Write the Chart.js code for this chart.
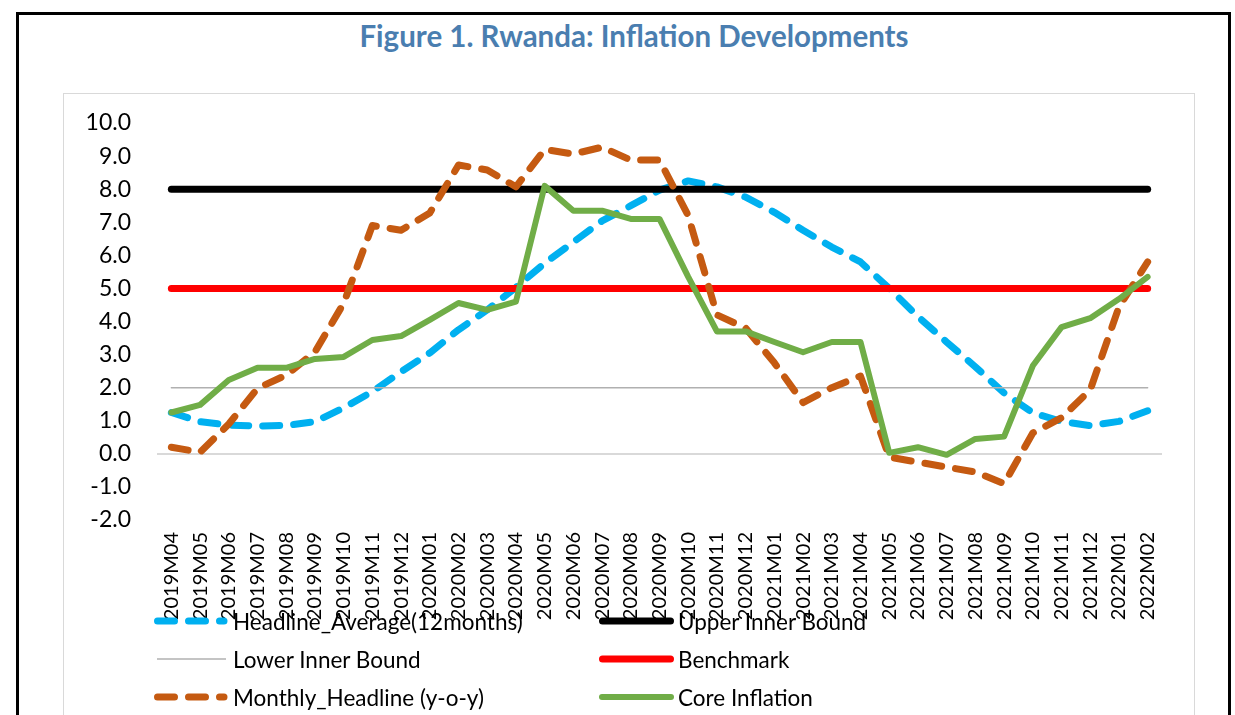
<!DOCTYPE html>
<html>
<head>
<meta charset="utf-8">
<script src="https://cdn.jsdelivr.net/npm/chart.js@4.4.1/dist/chart.umd.min.js"></script>
<style>
  html, body { margin: 0; padding: 0; background: #fff; }
  body { width: 1235px; height: 715px; overflow: hidden; position: relative; font-family: Lato, "Noto Sans", sans-serif; }
  #frame { position: absolute; left: 16px; top: 12px; width: 1209px; height: 800px; border: 3px solid #000; }
  #title { position: absolute; left: 234px; top: 18px; width: 800px; text-align: center; font-weight: bold; font-size: 29.5px; color: #4a7eb0; }
  #plotbox { position: absolute; left: 63px; top: 93px; width: 1130px; height: 700px; border: 1px solid #d9d9d9; }
  #wrap { position: absolute; left: 63px; top: 93px; width: 1132px; height: 622px; }
  .item { position: absolute; height: 26px; display: flex; align-items: center; font-size: 22.5px; color: #000; white-space: nowrap; }
  .item svg { margin-right: 4px; }
</style>
</head>
<body>
<div id="frame"></div>
<div id="title">Figure 1. Rwanda: Inflation Developments</div>
<div id="plotbox"></div>
<div id="wrap"><canvas id="inflationChart"></canvas></div>
<div id="legend"></div>
<script>
const months = ['2019M04', '2019M05', '2019M06', '2019M07', '2019M08', '2019M09', '2019M10', '2019M11', '2019M12',
  '2020M01', '2020M02', '2020M03', '2020M04', '2020M05', '2020M06', '2020M07', '2020M08', '2020M09', '2020M10',
  '2020M11', '2020M12', '2021M01', '2021M02', '2021M03', '2021M04', '2021M05', '2021M06', '2021M07', '2021M08',
  '2021M09', '2021M10', '2021M11', '2021M12', '2022M01', '2022M02'];

const headlineAverage = [1.25, 0.97, 0.87, 0.84, 0.86, 0.97, 1.39, 1.88, 2.48, 3.05, 3.75, 4.35, 5.03, 5.76, 6.4, 7.04, 7.5,
  7.97, 8.25, 8.07, 7.76, 7.3, 6.76, 6.25, 5.8, 5.0, 4.15, 3.38, 2.63, 1.84, 1.24, 0.98, 0.85, 0.98, 1.3];
const upperBound = [8, 8, 8, 8, 8, 8, 8, 8, 8, 8, 8, 8, 8, 8, 8, 8, 8, 8, 8, 8, 8, 8, 8, 8, 8, 8, 8, 8, 8, 8, 8, 8, 8, 8, 8];
const lowerBound = [2, 2, 2, 2, 2, 2, 2, 2, 2, 2, 2, 2, 2, 2, 2, 2, 2, 2, 2, 2, 2, 2, 2, 2, 2, 2, 2, 2, 2, 2, 2, 2, 2, 2, 2];
const benchmark = [5, 5, 5, 5, 5, 5, 5, 5, 5, 5, 5, 5, 5, 5, 5, 5, 5, 5, 5, 5, 5, 5, 5, 5, 5, 5, 5, 5, 5, 5, 5, 5, 5, 5, 5];
const monthlyHeadline = [0.2, 0.05, 0.9, 1.98, 2.38, 3.08, 4.55, 6.9, 6.76, 7.28, 8.73, 8.58, 8.07, 9.2, 9.06, 9.27, 8.88,
  8.88, 7.2, 4.2, 3.8, 2.75, 1.55, 2.0, 2.35, -0.1, -0.25, -0.4, -0.55, -0.9, 0.63, 1.09, 1.93, 4.44, 5.8];
const coreInflation = [1.25, 1.48, 2.23, 2.6, 2.6, 2.87, 2.93, 3.44, 3.56, 4.05, 4.56, 4.35, 4.6, 8.1, 7.35, 7.35, 7.1,
  7.1, 5.35, 3.7, 3.7, 3.38, 3.07, 3.38, 3.38, 0.03, 0.2, -0.03, 0.45, 0.52, 2.66, 3.83, 4.1, 4.68, 5.35];

const yTicks = [-2, -1, 0, 1, 2, 3, 4, 5, 6, 7, 8, 9, 10];

const dash = [17, 14];

function line(label, data, color, width, order, borderDash) {
  return {
    label: label,
    data: data,
    borderColor: color,
    backgroundColor: color,
    borderWidth: width,
    borderDash: borderDash || [],
    borderCapStyle: 'round',
    borderJoinStyle: 'round',
    pointRadius: 0,
    pointHoverRadius: 0,
    tension: 0,
    fill: false,
    order: order
  };
}

const ctx = document.getElementById('inflationChart').getContext('2d');

const inflationChart = new Chart(ctx, {
  type: 'line',
  data: {
    labels: months,
    datasets: [
      line('Headline_Average(12months)', headlineAverage, '#00b0f0', 7, 5, dash),
      line('Upper Inner Bound', upperBound, '#000000', 7, 4),
      line('Lower Inner Bound', lowerBound, '#b0b0b0', 1.5, 3),
      line('Benchmark', benchmark, '#ff0000', 7, 2),
      line('Monthly_Headline (y-o-y)', monthlyHeadline, '#c55a11', 7, 1, dash),
      line('Core Inflation', coreInflation, '#70ad47', 6, 0)
    ]
  },
  options: {
    responsive: true,
    maintainAspectRatio: false,
    animation: false,
    layout: { padding: { left: 0, right: 33, top: 30, bottom: 0 } },
    plugins: {
      legend: { display: false },
      title: { display: false },
      tooltip: { enabled: false }
    },
    scales: {
      x: {
        type: 'category',
        offset: true,
        grid: { display: false, drawTicks: false },
        border: { display: false },
        ticks: {
          autoSkip: false,
          minRotation: 90,
          maxRotation: 90,
          padding: 12,
          color: '#000',
          font: { family: 'Lato', size: 20 }
        },
        afterFit: (scale) => { scale.height = 195; scale.paddingLeft = 0; scale.paddingRight = 0; }
      },
      y: {
        min: yTicks[0],
        max: yTicks[yTicks.length - 1],
        afterBuildTicks: (scale) => { scale.ticks = yTicks.map(v => ({ value: v })); },
        grid: {
          drawTicks: false,
          lineWidth: 2,
          color: (c) => (c.tick && c.tick.value === 0 ? '#d9d9d9' : 'rgba(0,0,0,0)')
        },
        border: { display: false },
        ticks: {
          padding: 26,
          color: '#000',
          font: { family: 'Lato', size: 23 },
          callback: (v) => Number(v).toFixed(1)
        },
        afterFit: (scale) => { scale.width = 94; scale.paddingTop = 0; scale.paddingBottom = 0; }
      }
    }
  }
});

// legend laid out in two columns like the original
const legendCols = [154, 599];
const legendRows = [621, 659, 697];
const legendEl = document.getElementById('legend');
inflationChart.data.datasets.forEach((ds, i) => {
  const left = legendCols[i % 2];
  const top = legendRows[Math.floor(i / 2)] - 13;
  const item = document.createElement('div');
  item.className = 'item';
  item.style.left = left + 'px';
  item.style.top = top + 'px';
  const thin = ds.borderWidth < 3;
  const half = thin ? 0 : ds.borderWidth / 2;
  const x2 = ds.borderDash.length ? 70 : 75 - half;
  item.innerHTML =
    '<svg width="75" height="26"><line x1="' + (half + 3 * (thin ? 1 : 0)) + '" y1="13" x2="' + (thin ? 72 : x2) +
    '" y2="13" stroke="' + ds.borderColor + '" stroke-width="' + ds.borderWidth + '" stroke-linecap="' +
    (thin ? 'butt' : 'round') + '"' + (ds.borderDash.length ? ' stroke-dasharray="' + ds.borderDash.join(' ') + '"' : '') +
    '/></svg><span>' + ds.label + '</span>';
  legendEl.appendChild(item);
});
</script>
</body>
</html>
